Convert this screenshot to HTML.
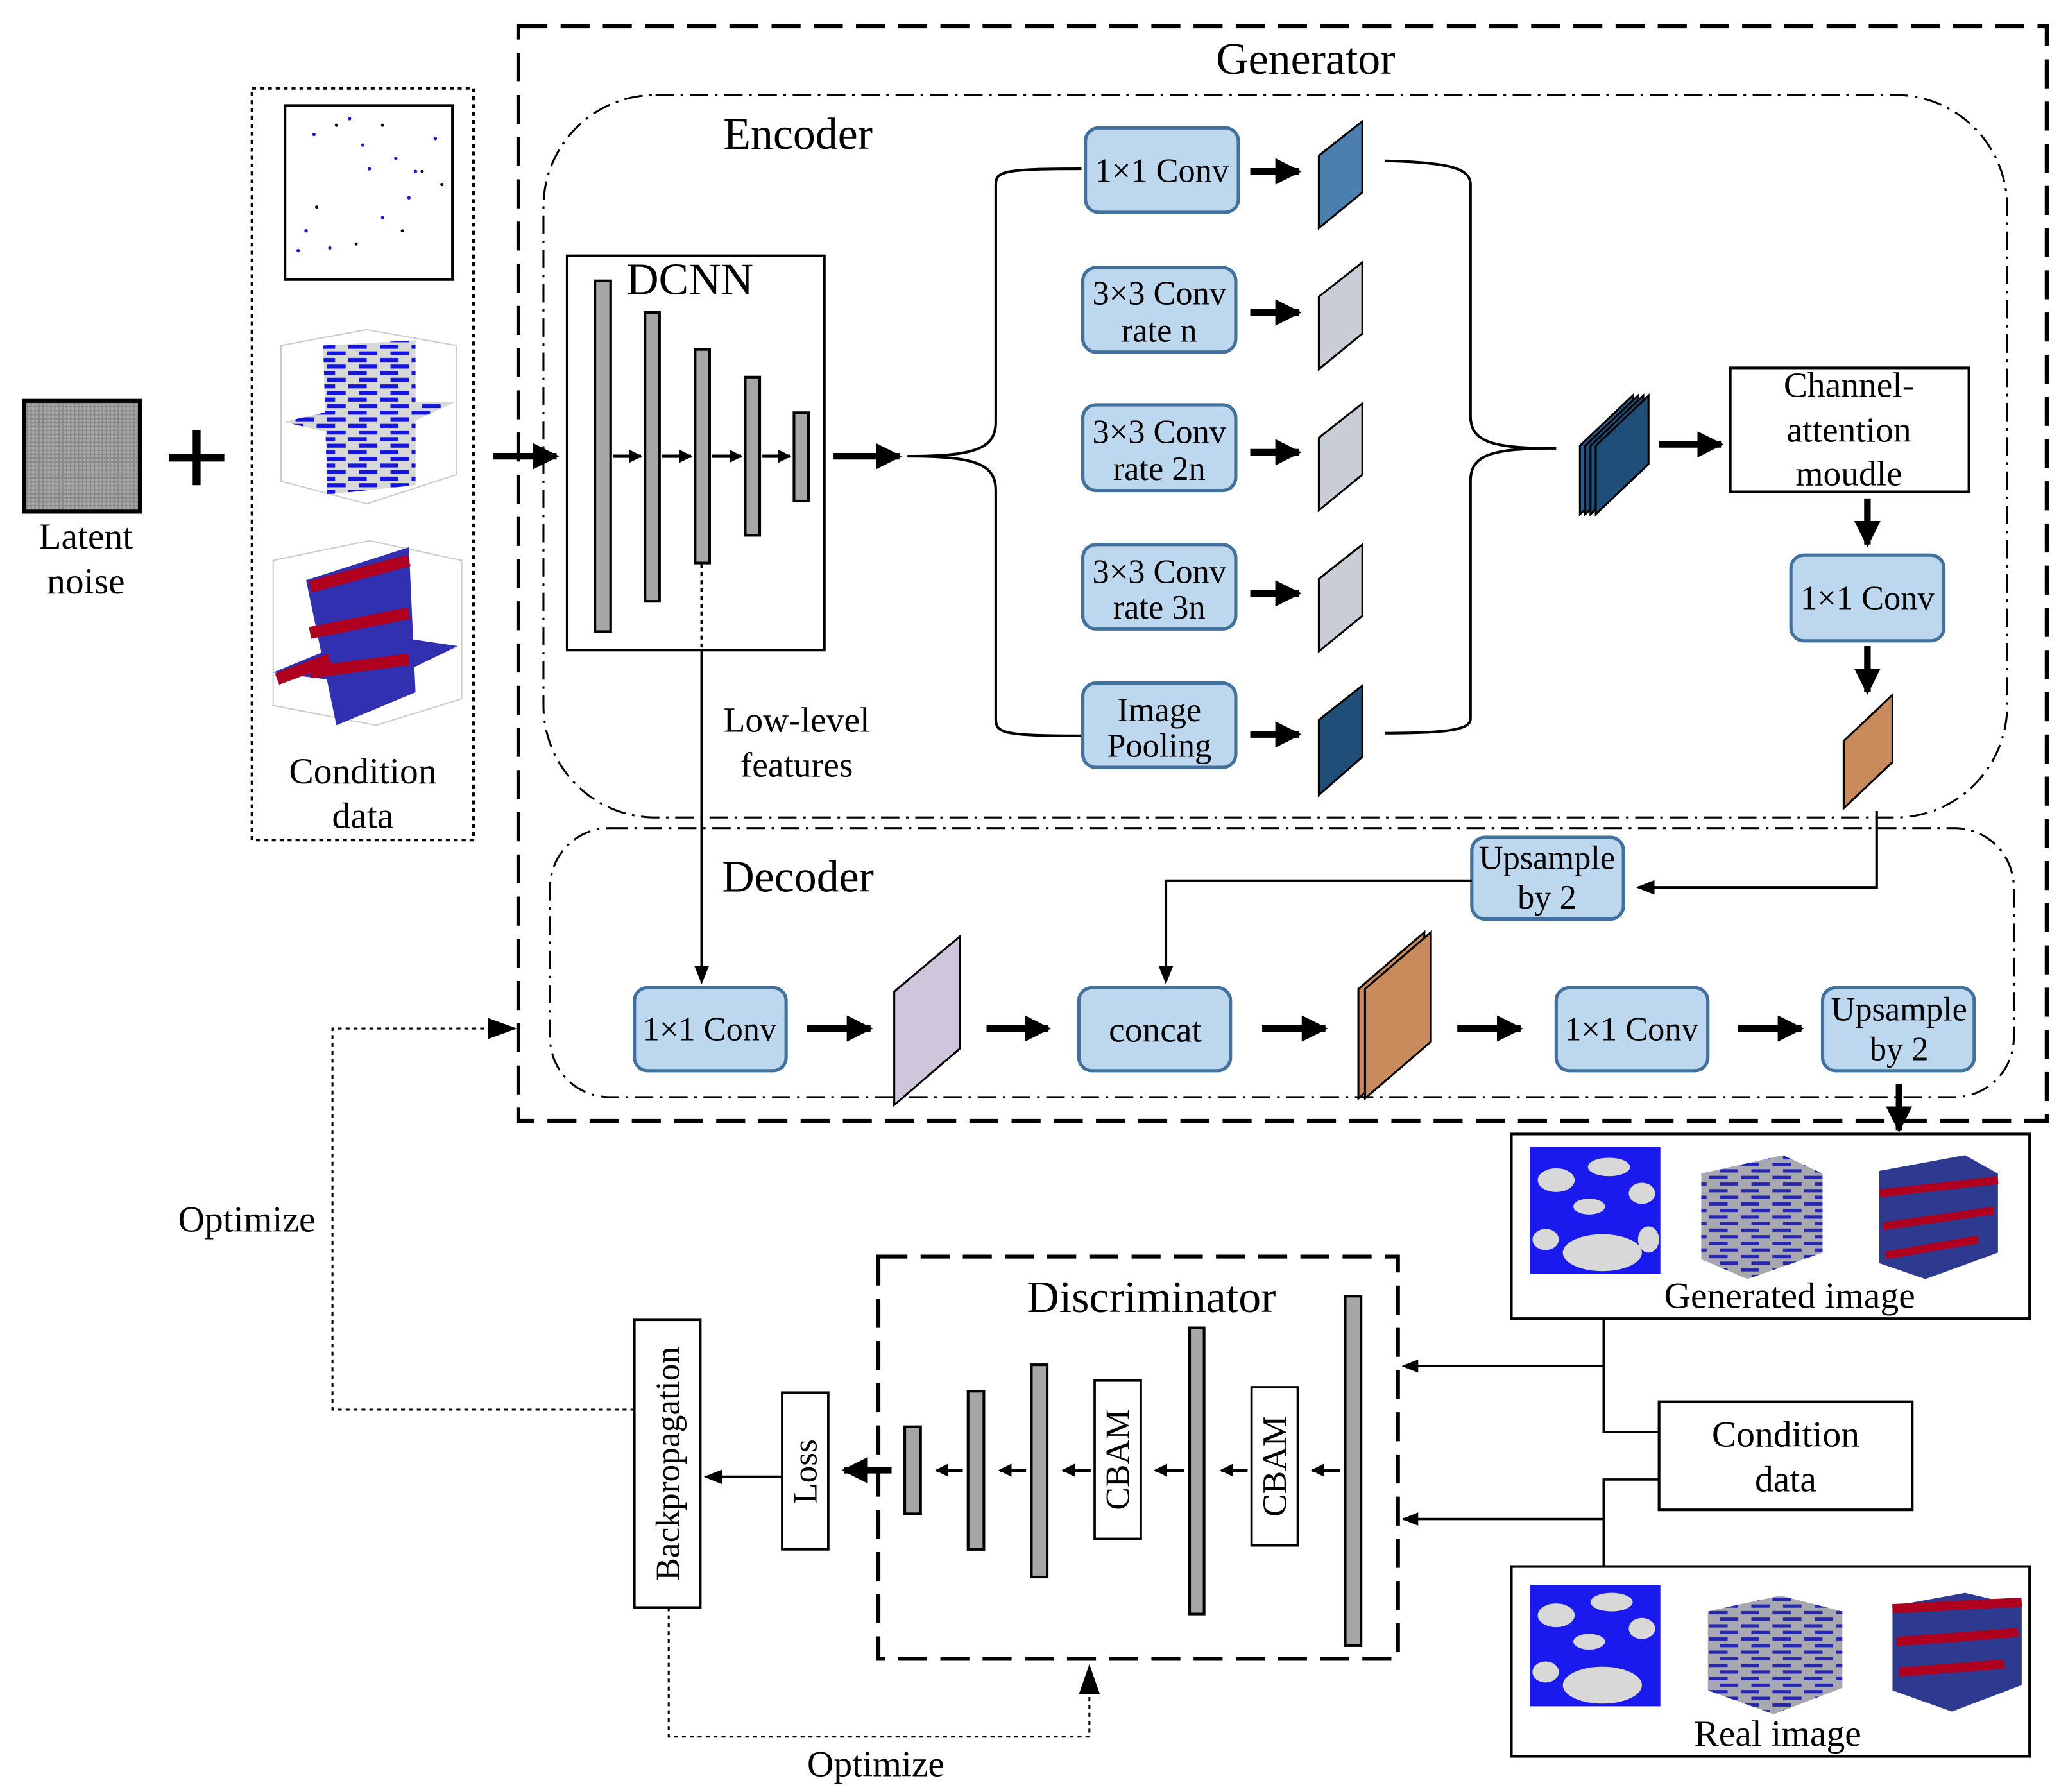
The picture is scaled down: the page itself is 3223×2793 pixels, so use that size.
<!DOCTYPE html>
<html><head><meta charset="utf-8"><style>html,body{margin:0;padding:0;background:#fff}svg{display:block}</style></head><body>
<svg width="3223" height="2793" viewBox="0 0 1568 1359" xmlns="http://www.w3.org/2000/svg" font-family="Liberation Serif, serif">
<defs>
<marker id="ah" viewBox="0 0 10 10" refX="9" refY="5" markerWidth="4" markerHeight="4" orient="auto"><path d="M0,0L10,5L0,10z" fill="#000"/></marker>
<marker id="as" viewBox="0 0 10 10" refX="9" refY="5" markerWidth="7" markerHeight="7" orient="auto"><path d="M0,1L10,5L0,9z" fill="#000"/></marker>
<pattern id="grid" width="3" height="3" patternUnits="userSpaceOnUse"><rect width="3" height="3" fill="#888"/><rect width="2" height="2" fill="#aaa"/></pattern>
<pattern id="tex" width="24" height="10" patternUnits="userSpaceOnUse"><rect width="24" height="10" fill="#a8a8b0"/><path d="M0,3h14M8,8h14" stroke="#2626b0" stroke-width="2.5"/></pattern>
<pattern id="tex2" width="24" height="10" patternUnits="userSpaceOnUse"><rect width="24" height="10" fill="#d8d8d8"/><path d="M0,3h14M8,8h14" stroke="#1515e0" stroke-width="3"/></pattern>
</defs>
<g fill="none" stroke="#000">
<rect x="393" y="20" width="1159" height="830" stroke-width="3" stroke-dasharray="22 10"/>
<rect x="412" y="72" width="1110" height="548" rx="85" stroke-width="1.5" stroke-dasharray="14 5 2 5"/>
<rect x="417" y="628" width="1110" height="204" rx="45" stroke-width="1.5" stroke-dasharray="14 5 2 5"/>
<rect x="191" y="67" width="168" height="570" stroke-width="2" stroke-dasharray="3 3"/>
<rect x="216" y="80" width="127" height="132" stroke-width="2"/>
<rect x="430" y="194" width="195" height="299" stroke-width="2"/>
<rect x="666" y="953" width="394" height="305" stroke-width="3" stroke-dasharray="22 10"/>
</g>
<text x="990" y="56" font-size="34" text-anchor="middle">Generator</text>
<text x="605" y="113" font-size="34" text-anchor="middle">Encoder</text>
<text x="605" y="676" font-size="34" text-anchor="middle">Decoder</text>
<!-- latent -->
<rect x="18" y="304" width="88" height="84" fill="url(#grid)" stroke="#000" stroke-width="3"/>
<text x="65" y="416" font-size="28" text-anchor="middle">Latent</text>
<text x="65" y="450" font-size="28" text-anchor="middle">noise</text>
<path d="M128,347h42M149,326v42" stroke="#000" stroke-width="6"/>
<!-- condition images -->
<g fill="#1a1ae6"><circle cx="238" cy="102" r="1.3"/><circle cx="265" cy="90" r="1.3"/><circle cx="280" cy="128" r="1.3"/><circle cx="300" cy="120" r="1.3"/><circle cx="330" cy="105" r="1.3"/><circle cx="226" cy="190" r="1.3"/><circle cx="250" cy="188" r="1.3"/><circle cx="290" cy="165" r="1.3"/><circle cx="310" cy="150" r="1.3"/><circle cx="275" cy="110" r="1.3"/><circle cx="232" cy="175" r="1.3"/><circle cx="315" cy="130" r="1.3"/></g>
<g fill="#000"><circle cx="255" cy="95" r="1.2"/><circle cx="290" cy="95" r="1.2"/><circle cx="320" cy="130" r="1.2"/><circle cx="240" cy="157" r="1.2"/><circle cx="305" cy="175" r="1.2"/><circle cx="270" cy="185" r="1.2"/><circle cx="335" cy="140" r="1.2"/></g>
<g stroke="#ccc" fill="none"><path d="M213,262L278,250L346,262L346,360L278,382L213,365z"/></g>
<path d="M245,262L315,258L315,368L248,375z" fill="url(#tex2)"/>
<path d="M215,320L280,305L345,305L280,335z" fill="url(#tex2)"/>
<g stroke="#ccc" fill="none"><path d="M207,425L280,410L350,425L350,530L285,550L207,535z"/></g>
<path d="M232,440L310,415L315,525L255,550z" fill="#3030b0"/>
<path d="M207,510L280,480L347,490L285,520z" fill="#3030b0"/>
<g stroke="#b00020" stroke-width="9" fill="none"><path d="M235,445L310,425M235,480L310,465M235,510L310,500M210,515L250,500"/></g>
<text x="275" y="594" font-size="28" text-anchor="middle">Condition</text>
<text x="275" y="628" font-size="28" text-anchor="middle">data</text>
<!-- arrows main -->
<g stroke="#000" stroke-width="5" fill="none" marker-end="url(#ah)">
<path d="M374,346H422"/><path d="M632,346H682"/>
<path d="M948,130H985"/><path d="M948,237H985"/><path d="M948,343H985"/><path d="M948,450H985"/><path d="M948,557H985"/>
<path d="M1258,337H1305"/><path d="M1416,378V413"/><path d="M1416,490V525"/>
<path d="M612,780H660"/><path d="M748,780H795"/><path d="M957,780H1005"/><path d="M1105,780H1153"/><path d="M1318,780H1366"/>
<path d="M1440,822V857"/>
<path d="M676,1115H640"/>
</g>
<!-- DCNN -->
<text x="523" y="223" font-size="34" text-anchor="middle">DCNN</text>
<g fill="#a6a6a6" stroke="#000" stroke-width="2">
<rect x="451" y="213" width="12" height="266"/><rect x="489" y="237" width="11" height="219"/><rect x="527" y="265" width="11" height="162"/><rect x="565" y="286" width="11" height="120"/><rect x="602" y="313" width="11" height="67"/>
</g>
<g stroke="#000" stroke-width="2.5" marker-end="url(#ah)"><path d="M465,346H486"/><path d="M502,346H524"/><path d="M540,346H562"/><path d="M578,346H599"/></g>
<!-- braces -->
<path d="M688,346C740,346 755,340 755,320V140C755,130 760,128 820,128M688,346C740,346 755,352 755,372V545C755,556 760,558 820,558" fill="none" stroke="#000" stroke-width="2"/>
<path d="M1180,340C1130,340 1115,335 1115,315V140C1115,128 1100,123 1050,122M1180,340C1130,340 1115,345 1115,365V545C1115,553 1100,556 1050,556" fill="none" stroke="#000" stroke-width="2"/>
<!-- blue boxes -->
<g fill="#bdd7ee" stroke="#41719c" stroke-width="2.5">
<rect x="823" y="97" width="116" height="64" rx="10"/><rect x="821" y="203" width="116" height="64" rx="10"/><rect x="821" y="307" width="116" height="65" rx="10"/><rect x="821" y="413" width="116" height="64" rx="10"/><rect x="821" y="518" width="116" height="64" rx="10"/>
<rect x="1358" y="421" width="116" height="65" rx="10"/><rect x="1116" y="635" width="115" height="62" rx="10"/>
<rect x="481" y="749" width="115" height="63" rx="10"/><rect x="818" y="749" width="115" height="63" rx="10"/><rect x="1180" y="749" width="115" height="63" rx="10"/><rect x="1382" y="749" width="115" height="63" rx="10"/>
</g>
<g font-size="25.5" text-anchor="middle">
<text x="881" y="138">1×1 Conv</text>
<text x="879" y="231">3×3 Conv</text><text x="879" y="259">rate n</text>
<text x="879" y="336">3×3 Conv</text><text x="879" y="364">rate 2n</text>
<text x="879" y="442">3×3 Conv</text><text x="879" y="469">rate 3n</text>
<text x="879" y="547">Image</text><text x="879" y="574">Pooling</text>
<text x="1416" y="462">1×1 Conv</text>
<text x="1173" y="659">Upsample</text><text x="1173" y="689">by 2</text>
<text x="538" y="789">1×1 Conv</text><text x="876" y="790" font-size="27">concat</text><text x="1237" y="789">1×1 Conv</text>
<text x="1440" y="774">Upsample</text><text x="1440" y="804">by 2</text>
</g>
<!-- plates -->
<g stroke="#000" stroke-width="1.5">
<path d="M1000,118L1033,92V146L1000,173z" fill="#4a7fb0"/>
<path d="M1000,225L1033,199V253L1000,280z" fill="#c8cdd6"/>
<path d="M1000,332L1033,306V360L1000,387z" fill="#c8cdd6"/>
<path d="M1000,439L1033,413V467L1000,494z" fill="#c8cdd6"/>
<path d="M1000,546L1033,520V574L1000,603z" fill="#1f4e79"/>
<path d="M1198,338L1238,300V352L1198,390z" fill="#2e5c88"/>
<path d="M1202,338L1242,300V352L1202,390z" fill="#1f4e79"/>
<path d="M1206,338L1246,300V352L1206,390z" fill="#1f4e79"/>
<path d="M1210,338L1250,300V352L1210,390z" fill="#1f4e79"/>
<path d="M1398,562L1435,527V578L1398,613z" fill="#c98a5c"/>
<path d="M678,752L728,710V795L678,838z" fill="#cfc6dc"/>
<path d="M1030,750L1080,707V790L1030,833z" fill="#c98a5c"/>
<path d="M1035,750L1085,707V790L1035,833z" fill="#c98a5c"/>
</g>
<!-- channel attention -->
<rect x="1312" y="279" width="181" height="94" fill="#fff" stroke="#000" stroke-width="2"/>
<g font-size="27" text-anchor="middle"><text x="1402" y="301">Channel-</text><text x="1402" y="335">attention</text><text x="1402" y="368">moudle</text></g>
<!-- connectors -->
<g stroke="#000" stroke-width="2" fill="none">
<path d="M1423,615V673H1242" marker-end="url(#as)"/>
<path d="M1116,668H884V745" marker-end="url(#as)"/>
<path d="M532,428V493" stroke-dasharray="3 3"/>
<path d="M532,493V745" marker-end="url(#as)"/>
</g>
<text x="604" y="555" font-size="27" text-anchor="middle">Low-level</text>
<text x="604" y="589" font-size="27" text-anchor="middle">features</text>
<!-- generated / real -->
<rect x="1146" y="860" width="393" height="140" fill="none" stroke="#000" stroke-width="2"/>
<rect x="1146" y="1188" width="393" height="144" fill="none" stroke="#000" stroke-width="2"/>
<rect x="1258" y="1063" width="192" height="82" fill="none" stroke="#000" stroke-width="2"/>
<g>
<rect x="1160" y="870" width="99" height="96" fill="#1a1aee"/>
<g fill="#d8d8d8"><ellipse cx="1180" cy="895" rx="14" ry="9"/><ellipse cx="1220" cy="885" rx="16" ry="7"/><ellipse cx="1245" cy="905" rx="10" ry="8"/><ellipse cx="1205" cy="915" rx="12" ry="6"/><ellipse cx="1215" cy="950" rx="30" ry="14"/><ellipse cx="1172" cy="940" rx="10" ry="8"/><ellipse cx="1250" cy="940" rx="8" ry="10"/></g>
<path d="M1290,890L1352,876L1382,890V950L1325,970L1290,955z" fill="url(#tex)"/>
<path d="M1425,888L1490,876L1515,890V950L1460,970L1425,958z" fill="#2e3a90"/>
<path d="M1425,905L1515,895M1428,930L1512,918M1430,952L1500,940" stroke="#b00020" stroke-width="6"/>
<rect x="1160" y="1202" width="99" height="92" fill="#1a1aee"/>
<g fill="#d8d8d8"><ellipse cx="1180" cy="1225" rx="14" ry="9"/><ellipse cx="1222" cy="1215" rx="16" ry="7"/><ellipse cx="1245" cy="1235" rx="10" ry="8"/><ellipse cx="1205" cy="1245" rx="12" ry="6"/><ellipse cx="1215" cy="1278" rx="30" ry="14"/><ellipse cx="1172" cy="1268" rx="10" ry="8"/></g>
<path d="M1295,1222L1350,1210L1397,1222V1280L1345,1300L1295,1282z" fill="url(#tex)"/>
<path d="M1435,1218L1490,1208L1533,1218V1278L1480,1298L1435,1282z" fill="#2e3a90"/>
<path d="M1435,1220L1533,1215M1438,1245L1530,1238M1440,1268L1520,1262" stroke="#b00020" stroke-width="7"/>
</g>
<text x="1357" y="992" font-size="28" text-anchor="middle">Generated image</text>
<text x="1348" y="1324" font-size="28" text-anchor="middle">Real image</text>
<text x="1354" y="1097" font-size="28" text-anchor="middle">Condition</text>
<text x="1354" y="1131" font-size="28" text-anchor="middle">data</text>
<g stroke="#000" stroke-width="1.8" fill="none">
<path d="M1216,1000V1086H1258"/><path d="M1258,1122H1216V1188"/>
<path d="M1216,1036H1064" marker-end="url(#as)"/><path d="M1216,1152H1064" marker-end="url(#as)"/>
</g>
<!-- discriminator -->
<text x="873" y="995" font-size="34" text-anchor="middle">Discriminator</text>
<g fill="#a6a6a6" stroke="#000" stroke-width="2">
<rect x="1020" y="983" width="12" height="265"/><rect x="902" y="1007" width="11" height="217"/><rect x="782" y="1035" width="12" height="161"/><rect x="734" y="1055" width="12" height="120"/><rect x="686" y="1082" width="12" height="66"/>
</g>
<g fill="#fff" stroke="#000" stroke-width="1.8">
<rect x="830" y="1047" width="35" height="120"/><rect x="949" y="1052" width="35" height="120"/>
<rect x="593" y="1056" width="35" height="119"/><rect x="481" y="1001" width="50" height="218"/>
</g>
<g font-size="26" text-anchor="middle">
<text transform="translate(856,1107) rotate(-90)">CBAM</text>
<text transform="translate(975,1112) rotate(-90)">CBAM</text>
<text transform="translate(619,1116) rotate(-90)">Loss</text>
<text transform="translate(515,1110) rotate(-90)">Backpropagation</text>
</g>
<g stroke="#000" stroke-width="2.5" marker-end="url(#ah)">
<path d="M1016,1115H995"/><path d="M946,1115H926"/><path d="M898,1115H876"/><path d="M827,1115H806"/><path d="M778,1115H758"/><path d="M730,1115H710"/>
</g>
<path d="M593,1120H535" stroke="#000" stroke-width="2" marker-end="url(#as)"/>
<g stroke="#000" stroke-width="1.5" fill="none" stroke-dasharray="3 3">
<path d="M481,1069H252V780H370"/><path d="M507,1219V1317H826V1285"/>
</g>
<path d="M370,772L392,780L370,788z" fill="#000"/>
<path d="M818,1285L826,1262L834,1285z" fill="#000"/>
<text x="187" y="934" font-size="28" text-anchor="middle">Optimize</text>
<text x="664" y="1347" font-size="28" text-anchor="middle">Optimize</text>
</svg>
</body></html>
